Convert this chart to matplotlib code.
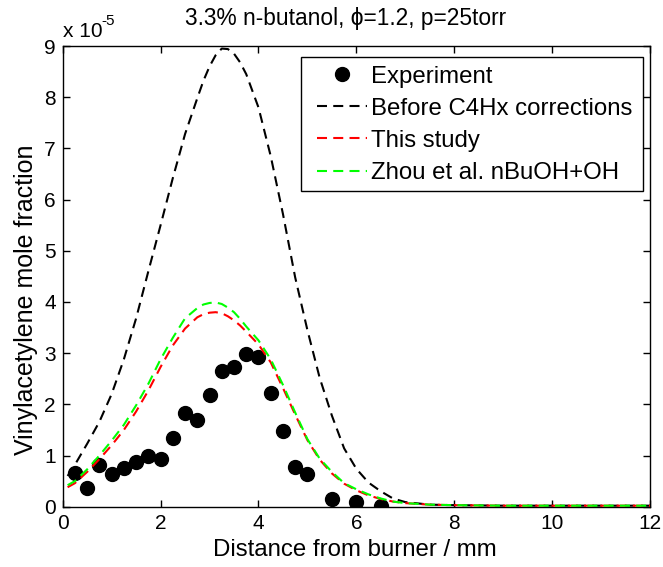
import matplotlib
matplotlib.use("Agg")
import matplotlib.pyplot as plt
from matplotlib.patches import Rectangle

plt.rcParams['font.family'] = ['Liberation Sans', 'DejaVu Sans']

# Experimental data (mole fraction in units of 1e-5)
exp_x = [0.25, 0.5, 0.75, 1.0, 1.25, 1.5, 1.75, 2.0, 2.25, 2.5, 2.75, 3.0, 3.25,
         3.5, 3.75, 4.0, 4.25, 4.5, 4.75, 5.0, 5.5, 6.0, 6.5]
exp_y = [0.65, 0.37, 0.81, 0.64, 0.76, 0.88, 1.00, 0.93, 1.34, 1.84, 1.69, 2.19, 2.66,
         2.72, 2.98, 2.93, 2.22, 1.48, 0.77, 0.64, 0.16, 0.09, 0.01]

# Model curves
mod_x = [0.1, 0.25, 0.5, 0.75, 1.0, 1.25, 1.5, 1.75, 2.0, 2.25, 2.5, 2.75, 2.875, 3.0,
         3.125, 3.25, 3.375, 3.5, 3.625, 3.75, 4.0, 4.25, 4.5, 4.75, 5.0, 5.25, 5.5,
         5.75, 6.0, 6.25, 6.5, 6.75, 7.0, 7.5, 8.0, 9.0, 10.0, 11.0, 12.0]
before_y = [0.60, 0.82, 1.23, 1.66, 2.20, 2.88, 3.68, 4.60, 5.50, 6.42, 7.28, 7.98, 8.32, 8.60,
            8.82, 8.95, 8.94, 8.85, 8.68, 8.45, 7.80, 6.85, 5.72, 4.48, 3.45, 2.52, 1.78,
            1.14, 0.74, 0.47, 0.30, 0.16, 0.09, 0.04, 0.03, 0.02, 0.02, 0.02, 0.02]
this_y = [0.38, 0.46, 0.68, 0.93, 1.20, 1.50, 1.86, 2.27, 2.73, 3.15, 3.48, 3.70, 3.76, 3.79,
          3.80, 3.78, 3.72, 3.64, 3.54, 3.42, 3.17, 2.82, 2.32, 1.80, 1.30, 0.92, 0.65,
          0.45, 0.32, 0.22, 0.15, 0.10, 0.07, 0.04, 0.03, 0.02, 0.02, 0.02, 0.02]
zhou_y = [0.42, 0.50, 0.73, 1.00, 1.29, 1.60, 1.98, 2.40, 2.88, 3.30, 3.68, 3.88, 3.95, 3.98,
          3.99, 3.96, 3.89, 3.80, 3.67, 3.52, 3.25, 2.88, 2.38, 1.84, 1.32, 0.94, 0.68,
          0.46, 0.34, 0.24, 0.16, 0.10, 0.07, 0.04, 0.03, 0.02, 0.02, 0.02, 0.02]

labels = ["Experiment", "Before C4Hx corrections", "This study", "Zhou et al. nBuOH+OH"]
xticks = [0, 2, 4, 6, 8, 10, 12]
yticks = [0, 1, 2, 3, 4, 5, 6, 7, 8, 9]

W, H = 663, 567
fig = plt.figure(figsize=(W / 100, H / 100), dpi=100)
L, R, T, B = 62.7, 650, 46, 506.7
ax = fig.add_axes([L / W, 1 - B / H, (R - L) / W, (B - T) / H])

dash = (4.8, 3.0)
ax.plot(exp_x, exp_y, 'o', color='black', markersize=10, label=labels[0], zorder=2)
ax.plot(mod_x, before_y, '--', color='black', lw=1.5, dashes=dash, label=labels[1], zorder=3)
ax.plot(mod_x, this_y, '--', color='#ff0000', lw=1.5, dashes=dash, label=labels[2], zorder=3)
ax.plot(mod_x, zhou_y, '--', color='#00ff00', lw=1.5, dashes=dash, label=labels[3], zorder=4)

ax.set_xlim(0, 12)
ax.set_ylim(0, 9)
ax.set_xticks(xticks)
ax.set_yticks(yticks)
ax.set_xticklabels([str(v) for v in xticks])
ax.set_yticklabels([str(v) for v in yticks])
ax.tick_params(direction='in', length=5, width=1, top=True, right=True,
               labelsize=15, pad=5)
for s in ax.spines.values():
    s.set_linewidth(1.0)

# legend frame drawn as a rectangle, entries placed inside it
frame = Rectangle((300.7 / W, 1 - 190.7 / H), (642.7 - 300.7) / W,
                  (190.7 - 57.3) / H, transform=fig.transFigure,
                  facecolor='white', edgecolor='black', lw=1.0, zorder=5, clip_on=False)
ax.add_patch(frame)
fs_leg = 17.3
leg = ax.legend(loc='upper left', bbox_to_anchor=(316.7 / W, 1 - 65.7 / H),
                bbox_transform=fig.transFigure, fontsize=fs_leg, frameon=False,
                borderpad=0, handlelength=2.08, handletextpad=0.17,
                labelspacing=0.42, borderaxespad=0, numpoints=1)
leg.set_zorder(6)

fig.text(346 / W, 1 - 25 / H, "3.3% n-butanol, ϕ=1.2, p=25torr", ha='center',
         va='baseline', fontsize=16.4)
fig.text(355 / W, 1 - 556 / H, "Distance from burner / mm", ha='center',
         va='baseline', fontsize=17.3)
fig.text(26 / W, 1 - 300 / H, "Vinylacetylene mole fraction", ha='center',
         va='center', rotation=90, fontsize=18)
fig.text(63 / W, 1 - 37 / H, "x 10", ha='left', va='baseline', fontsize=15)
fig.text(101 / W, 1 - 25 / H, "-5", ha='left', va='baseline', fontsize=11)

fig.savefig("out.png", dpi=100)
